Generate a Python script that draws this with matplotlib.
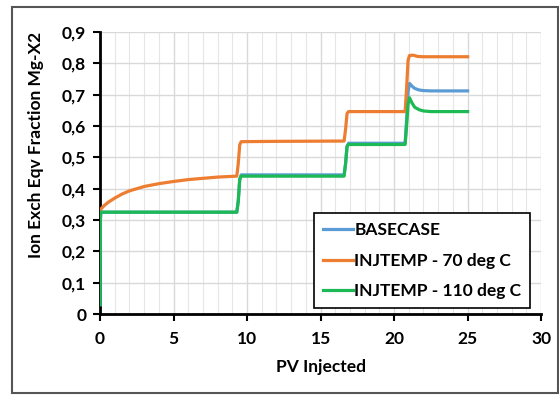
import matplotlib
matplotlib.use("Agg")
import matplotlib.pyplot as plt
from matplotlib.patches import Rectangle
from matplotlib.ticker import MultipleLocator, FuncFormatter

plt.rcParams['font.family'] = ['Lato', 'DejaVu Sans']
plt.rcParams['font.weight'] = 'bold'

# Data
base_x = [0, 0.02, 0.05, 9.3, 9.4, 9.5, 9.6, 16.6, 16.7, 16.8, 16.9, 20.75, 20.85, 20.95, 21.05, 21.2, 21.4, 21.7, 22.0, 22.5, 25]
base_y = [0.03, 0.30, 0.325, 0.325, 0.36, 0.43, 0.444, 0.444, 0.48, 0.535, 0.545, 0.545, 0.62, 0.71, 0.736, 0.728, 0.72, 0.715, 0.713, 0.712, 0.712]

t70_x = [0, 0.1, 0.3, 0.6, 1, 1.5, 2, 3, 4, 5, 6, 7, 8, 9.3, 9.4, 9.5, 9.6, 12, 16.6, 16.7, 16.8, 16.9, 20.75, 20.85, 20.95, 21.05, 21.3, 21.6, 22.0, 25]
t70_y = [0.33, 0.337, 0.347, 0.358, 0.370, 0.383, 0.393, 0.407, 0.416, 0.423, 0.429, 0.433, 0.437, 0.440, 0.48, 0.54, 0.550, 0.551, 0.552, 0.59, 0.64, 0.646, 0.646, 0.72, 0.81, 0.825, 0.826, 0.822, 0.821, 0.821]

t110_x = [0, 0.02, 0.05, 9.3, 9.4, 9.5, 9.6, 16.6, 16.7, 16.8, 16.9, 20.75, 20.85, 20.95, 21.05, 21.2, 21.4, 21.7, 22.0, 22.5, 25]
t110_y = [0.03, 0.30, 0.325, 0.325, 0.36, 0.43, 0.440, 0.440, 0.48, 0.535, 0.541, 0.541, 0.60, 0.67, 0.690, 0.675, 0.66, 0.652, 0.648, 0.646, 0.646]

labels = ['BASECASE', 'INJTEMP - 70 deg C', 'INJTEMP - 110 deg C']
colors = ['#5B9BD5', '#ED7D31', '#1DB954']

fig = plt.figure(figsize=(5.59, 3.95), dpi=100)
ax = fig.add_axes([0.179, 0.205, 0.789, 0.714])

ax.plot(base_x, base_y, color=colors[0], lw=2.3, label=labels[0], zorder=3)
ax.plot(t70_x, t70_y, color=colors[1], lw=2.3, label=labels[1], zorder=4)
ax.plot(t110_x, t110_y, color=colors[2], lw=2.3, label=labels[2], zorder=5)

ax.set_xlim(0, 30)
ax.set_ylim(0, 0.9)
ax.xaxis.set_major_locator(MultipleLocator(5))
ax.xaxis.set_minor_locator(MultipleLocator(1))
ax.yaxis.set_major_locator(MultipleLocator(0.1))

def yfmt(v, p):
    if abs(v) < 1e-9:
        return '0'
    return ('%.1f' % v).replace('.', ',')
ax.yaxis.set_major_formatter(FuncFormatter(yfmt))

ax.grid(which='major', color='#d9d9d9', lw=1.0)
ax.grid(which='minor', axis='x', color='#e6e6e6', lw=0.8)
ax.set_axisbelow(True)

for s in ['top', 'right']:
    ax.spines[s].set_visible(False)
for s in ['left', 'bottom']:
    ax.spines[s].set_linewidth(2.0)
    ax.spines[s].set_color('black')

ax.tick_params(which='major', direction='out', length=5, width=1.5, labelsize=12.5)
ax.tick_params(axis='x', pad=7)
ax.tick_params(axis='y', pad=5)
ax.tick_params(which='minor', length=0)
for lab in ax.get_xticklabels() + ax.get_yticklabels():
    lab.set_fontweight('bold')

ax.set_xlabel('PV Injected', fontsize=12.5, fontweight='bold', labelpad=9)
ax.set_ylabel('Ion Exch Eqv Fraction Mg-X2', fontsize=12.5, fontweight='bold')
ax.yaxis.set_label_coords(-0.128, 0.60)

leg = ax.legend(loc='lower right', bbox_to_anchor=(0.975, 0.021), fontsize=12.5, frameon=True,
                fancybox=False, edgecolor='black', framealpha=1, handlelength=1.7,
                handletextpad=0.1, borderpad=0.5, labelspacing=0.85, borderaxespad=0)
leg.get_frame().set_linewidth(1.2)
for t in leg.get_texts():
    t.set_fontweight('bold')

fig.patches.append(Rectangle((0.021, 0.005), 0.978, 0.977, transform=fig.transFigure,
                             fill=False, edgecolor='#555555', lw=1.5))

fig.savefig('out.png', dpi=100)
